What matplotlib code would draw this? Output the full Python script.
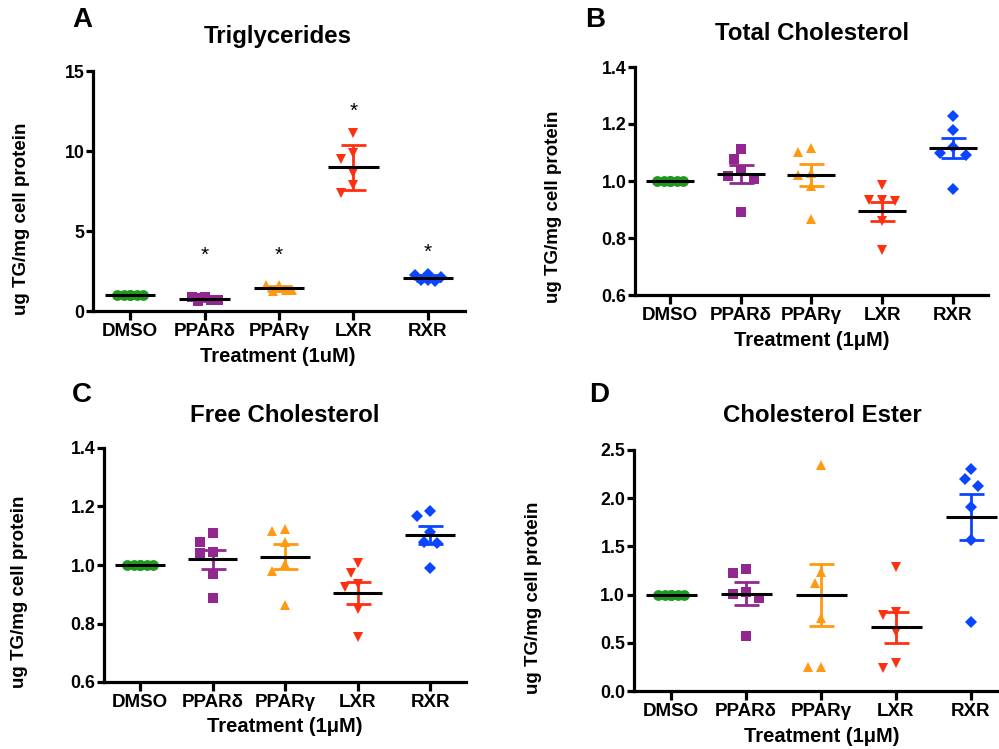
import numpy as np
import matplotlib
matplotlib.use("Agg")
import matplotlib.pyplot as plt

plt.rcParams['font.family'] = ['Liberation Sans', 'DejaVu Sans']
plt.rcParams['font.weight'] = 'bold'

groups = ['DMSO', 'PPARδ', 'PPARγ', 'LXR', 'RXR']
colors = ['#1f9a1f', '#92278f', '#ff9912', '#ff3010', '#0a46ff']
markers = ['o', 's', '^', 'v', 'D']

# triglycerides (panel A, error = SD)
tg_points = [
    [1.0, 1.0, 1.0, 1.0, 1.0, 1.0],
    [0.9, 0.88, 0.7, 0.65, 0.68, 0.8],
    [1.65, 1.6, 1.3, 1.25, 1.3, 1.45],
    [11.1, 9.9, 9.5, 8.6, 7.9, 7.4],
    [2.33, 2.23, 2.1, 1.95, 1.9, 1.95],
]
tg_mean = [1.0, 0.77, 1.42, 8.97, 2.08]
tg_err = [0.0, 0.15, 0.17, 1.42, 0.2]
tg_star = [None, 3.5, 3.5, 12.45, 3.64]

# total cholesterol
tc_points = [
    [1.0, 1.0, 1.0, 1.0, 1.0, 1.0],
    [1.111, 1.076, 1.037, 1.016, 1.006, 0.890],
    [1.116, 1.101, 1.028, 1.022, 0.982, 0.866],
    [0.985, 0.935, 0.935, 0.93, 0.86, 0.757],
    [1.228, 1.178, 1.119, 1.099, 1.09, 0.973],
]
tc_mean = [1.0, 1.025, 1.021, 0.894, 1.116]
tc_err = [0.0, 0.032, 0.038, 0.033, 0.036]

# free cholesterol
fc_points = [
    [1.0, 1.0, 1.0, 1.0, 1.0, 1.0],
    [1.109, 1.08, 1.046, 1.04, 0.969, 0.886],
    [1.123, 1.115, 1.079, 1.003, 0.979, 0.863],
    [1.006, 0.971, 0.934, 0.926, 0.851, 0.754],
    [1.183, 1.169, 1.112, 1.08, 1.074, 0.989],
]
fc_mean = [1.0, 1.019, 1.029, 0.905, 1.102]
fc_err = [0.0, 0.033, 0.042, 0.038, 0.03]

# cholesterol ester
ce_points = [
    [1.0, 1.0, 1.0, 1.0, 1.0, 1.0],
    [1.27, 1.22, 1.03, 1.01, 0.96, 0.57],
    [2.344, 1.231, 1.117, 0.761, 0.252, 0.252],
    [1.29, 0.816, 0.788, 0.615, 0.294, 0.242],
    [2.3, 2.2, 2.127, 1.912, 1.566, 0.712],
]
ce_mean = [1.0, 1.01, 0.995, 0.66, 1.805]
ce_err = [0.0, 0.121, 0.322, 0.158, 0.24]

W, H = 999, 749
fig = plt.figure(figsize=(W / 100, H / 100), dpi=100)


def px_axes(x0, spacing, ytop, ybot):
    left = x0 - 0.5 * spacing
    right = x0 + 4.5 * spacing
    return fig.add_axes([left / W, 1 - ybot / H, (right - left) / W, (ybot - ytop) / H])


def swarm(ax, x0, vals, step=6.5, mind=11.0, kmax=2):
    # simple beeswarm in pixel space, like the prism scatter layout
    ys = ax.transData.transform(np.column_stack([np.full(len(vals), x0), vals]))[:, 1]
    ppu = ax.transData.transform((1, 0))[0] - ax.transData.transform((0, 0))[0]
    placed = []
    for y in ys:
        best, bestd = 0.0, -1
        for k in [0, -1, 1, -2, 2, -3, 3][:2 * kmax + 1]:
            dx = k * step
            d = min([np.hypot(dx - px, y - py) for px, py in placed], default=1e9)
            if d >= mind:
                best = dx
                break
            if d > bestd:
                best, bestd = dx, d
        placed.append((best, y))
    return [x0 + p[0] / ppu for p in placed]


def panel(ax, points, means, errs, ylim, yticks, fmt, title, letter, xlabel,
          ylab_px, xlab_px, title_px, letter_px, stars=None):
    ax.set_xlim(-0.5, 4.5)
    ax.set_ylim(*ylim)
    for s in ['top', 'right']:
        ax.spines[s].set_visible(False)
    for s in ['left', 'bottom']:
        ax.spines[s].set_linewidth(2.3)
    ax.set_xticks(range(5))
    ax.set_xticklabels(groups, fontsize=13.5, fontweight='bold')
    ax.set_yticks(yticks)
    ax.set_yticklabels([fmt.format(t) for t in yticks], fontsize=12.8, fontweight='bold')
    ax.tick_params(axis='x', length=6.5, width=2.3, pad=2)
    ax.tick_params(axis='y', length=5, width=2.3, pad=1)
    for i in range(5):
        xs = swarm(ax, i, points[i])
        ax.plot(xs, points[i], linestyle='none', marker=markers[i], color=colors[i],
                markersize=7.8 if markers[i] != 'D' else 6.4, markeredgewidth=0,
                clip_on=False, zorder=3)
        if errs[i] > 0:
            ax.errorbar(i, means[i], yerr=errs[i], fmt='none', ecolor=colors[i],
                        elinewidth=2, capsize=9, capthick=2, zorder=4, clip_on=False)
        ax.plot([i - 0.34, i + 0.34], [means[i], means[i]], color='black', lw=2.2,
                zorder=5, solid_capstyle='butt')
        if stars is not None and stars[i] is not None:
            ax.text(i, stars[i], '*', ha='center', va='center', fontsize=15,
                    fontweight='normal')
    fig.text(ylab_px[0] / W, 1 - ylab_px[1] / H, 'ug TG/mg cell protein', rotation=90,
             ha='center', va='center', fontsize=13.5, fontweight='bold')
    fig.text(xlab_px[0] / W, 1 - xlab_px[1] / H, xlabel, ha='center', va='center',
             fontsize=14.5, fontweight='bold')
    fig.text(title_px[0] / W, 1 - title_px[1] / H, title, ha='center', va='center',
             fontsize=17.3, fontweight='bold')
    fig.text(letter_px[0] / W, 1 - letter_px[1] / H, letter, ha='center', va='center',
             fontsize=20, fontweight='bold')


axA = px_axes(130, 74.5, 71, 311)
panel(axA, tg_points, tg_mean, tg_err, (0, 15), [0, 5, 10, 15], '{:.0f}',
      'Triglycerides', 'A', 'Treatment (1uM)',
      (22, 219), (278, 357), (278, 37), (82, 20), stars=tg_star)

axB = px_axes(670, 70.7, 67, 295)
panel(axB, tc_points, tc_mean, tc_err, (0.6, 1.4), [0.6, 0.8, 1.0, 1.2, 1.4], '{:.1f}',
      'Total Cholesterol', 'B', 'Treatment (1μM)',
      (553, 207), (812, 340), (812, 33), (595, 20))

axC = px_axes(140, 72.5, 448, 682)
panel(axC, fc_points, fc_mean, fc_err, (0.6, 1.4), [0.6, 0.8, 1.0, 1.2, 1.4], '{:.1f}',
      'Free Cholesterol', 'C', 'Treatment (1μM)',
      (20, 592), (285, 727), (285, 415), (82, 395))

axD = px_axes(671, 75, 450, 691)
panel(axD, ce_points, ce_mean, ce_err, (0, 2.5), [0, 0.5, 1.0, 1.5, 2.0, 2.5], '{:.1f}',
      'Cholesterol Ester', 'D', 'Treatment (1μM)',
      (533, 598), (822, 737), (822, 415), (599, 395))

fig.savefig('out.png', dpi=100)
